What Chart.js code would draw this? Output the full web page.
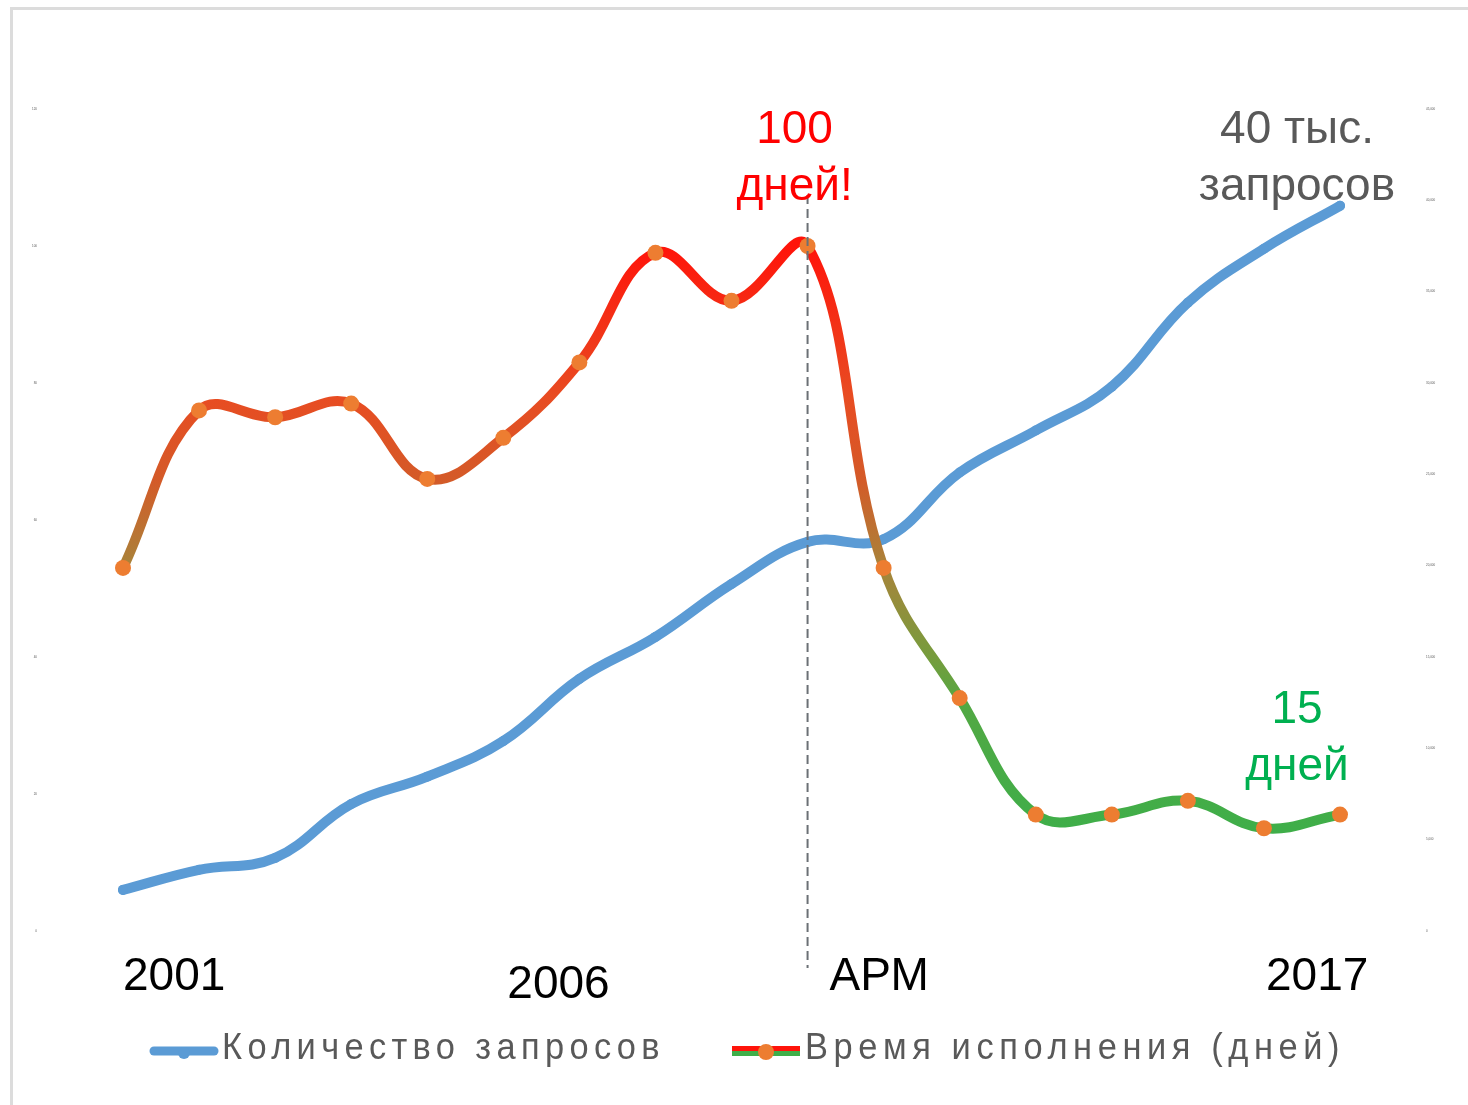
<!DOCTYPE html>
<html>
<head>
<meta charset="utf-8">
<script src="https://cdn.jsdelivr.net/npm/chart.js@4.4.1/dist/chart.umd.min.js"></script>
<style>
  html, body { margin: 0; padding: 0; background: #ffffff; overflow: hidden; }
  #frame { position: absolute; left: 10px; top: 7px; width: 2000px; height: 2000px;
           border-left: 3px solid #dcdcdc; border-top: 3px solid #dcdcdc; z-index: 0; }
  #wrap { position: absolute; left: 0; top: 0; width: 1468px; height: 1105px; z-index: 1; }
</style>
</head>
<body>
<div id="frame"></div>
<div id="wrap"><canvas id="c" width="1468" height="1105"></canvas></div>
<script>
// ---- data ----
const years = ['2001','2002','2003','2004','2005','2006','2007','2008','2009','2010','2011','2012','2013','2014','2015','2016','2017'];
const requests = [2250, 3350, 4000, 6950, 8450, 10400, 13800, 16100, 19000, 21300, 21450, 25100, 27400, 29800, 34400, 37350, 39700];
const days = [53, 76, 75, 77, 66, 72, 83, 99, 92, 100, 53, 34, 17, 17, 19, 15, 17];
const seriesNames = ['Количество запросов', 'Время исполнения (дней)'];
const leftTicks = [0, 20, 40, 60, 80, 100, 120];
const rightTicks = [0, 5000, 10000, 15000, 20000, 25000, 30000, 35000, 40000, 45000];
const yearLabels = [{i: 0, text: '2001'}, {i: 5, text: '2006'}, {i: 9, text: 'АРМ'}, {i: 16, text: '2017'}];
const aprIndex = 9;

const BLUE = '#5b9bd5';
const ORANGE = '#ed7d31';
const GRAY = '#595959';
const SANS = '"Liberation Sans", Arial, sans-serif';

function dayGradient(chart) {
  const {ctx, chartArea, scales} = chart;
  if (!chartArea) return '#e64e22';
  const y = scales.yL;
  const top = y.getPixelForValue(100), bot = y.getPixelForValue(15);
  const g = ctx.createLinearGradient(0, top, 0, bot);
  const s = v => Math.min(1, Math.max(0, (100 - v) / 85));
  g.addColorStop(s(100), '#ff140a');
  g.addColorStop(s(78), '#e84c22');
  g.addColorStop(s(66), '#d45a28');
  g.addColorStop(s(53), '#a8843a');
  g.addColorStop(s(40), '#769c3d');
  g.addColorStop(s(33), '#52a843');
  g.addColorStop(s(15), '#3fae49');
  return g;
}

const annotations = {
  id: 'annotations',
  afterDatasetsDraw(chart) {
    const {ctx, scales} = chart;
    const x = scales.x;
    ctx.save();
    const xa = x.getPixelForValue(aprIndex);
    ctx.strokeStyle = '#6b7075';
    ctx.lineWidth = 2;
    ctx.setLineDash([9, 5]);
    ctx.beginPath();
    ctx.moveTo(xa, 195);
    ctx.lineTo(xa, 968);
    ctx.stroke();
    ctx.setLineDash([]);

    ctx.textAlign = 'center';
    ctx.textBaseline = 'alphabetic';
    ctx.font = '46px ' + SANS;
    ctx.fillStyle = '#ff0000';
    ctx.fillText('100', xa - 13, 143);
    ctx.fillText('дней!', xa - 13, 200);
    const xe = x.getPixelForValue(16);
    ctx.fillStyle = GRAY;
    ctx.fillText('40 тыс.', xe - 43, 143);
    ctx.fillText('запросов', xe - 43, 200);
    ctx.fillStyle = '#00b050';
    ctx.fillText('15', xe - 43, 723);
    ctx.fillText('дней', xe - 43, 780);

    ctx.fillStyle = '#000000';
    ctx.textAlign = 'left';
    const offs = {0: [0, 990], 5: [4, 998], 9: [22, 990], 16: [-74, 990]};
    yearLabels.forEach(l => {
      const o = offs[l.i];
      ctx.fillText(l.text, x.getPixelForValue(l.i) + o[0], o[1]);
    });

    // legend
    const items = [
      {x0: 150, x1: 218, tx: 222, tw: 443, name: seriesNames[0], kind: 0},
      {x0: 732, x1: 800, tx: 805, tw: 540, name: seriesNames[1], kind: 1}
    ];
    const ly = 1051;
    items.forEach(it => {
      if (it.kind === 0) {
        ctx.strokeStyle = BLUE; ctx.lineWidth = 9; ctx.lineCap = 'round';
        ctx.beginPath(); ctx.moveTo(it.x0 + 4, ly); ctx.lineTo(it.x1 - 4, ly); ctx.stroke();
        ctx.fillStyle = BLUE;
        ctx.beginPath(); ctx.arc((it.x0 + it.x1) / 2, ly + 2, 6, 0, Math.PI * 2); ctx.fill();
      } else {
        ctx.fillStyle = '#ff140a';
        ctx.fillRect(it.x0, ly - 5, it.x1 - it.x0, 5);
        ctx.fillStyle = '#3fae49';
        ctx.fillRect(it.x0, ly, it.x1 - it.x0, 5);
        ctx.fillStyle = ORANGE;
        ctx.beginPath(); ctx.arc((it.x0 + it.x1) / 2, ly + 1, 8, 0, Math.PI * 2); ctx.fill();
      }
      const sx = 0.93;
      ctx.save();
      ctx.font = '37px ' + SANS;
      ctx.fillStyle = GRAY;
      ctx.textAlign = 'left';
      ctx.scale(sx, 1);
      ctx.letterSpacing = '0px';
      const w = ctx.measureText(it.name).width;
      const sp = (it.tw / sx - w) / it.name.length;
      ctx.letterSpacing = sp.toFixed(2) + 'px';
      ctx.fillText(it.name, it.tx / sx, 1059);
      ctx.restore();
    });
    ctx.restore();
  }
};

new Chart(document.getElementById('c'), {
  type: 'line',
  data: {
    labels: years,
    datasets: [
      {
        label: seriesNames[0],
        data: requests,
        yAxisID: 'yR',
        borderColor: BLUE,
        backgroundColor: BLUE,
        borderWidth: 10,
        pointRadius: 5,
        pointBorderWidth: 0,
        pointBackgroundColor: BLUE,
        tension: 0.4,
        order: 2,
        borderCapStyle: 'round',
        borderJoinStyle: 'round'
      },
      {
        label: seriesNames[1],
        data: days,
        yAxisID: 'yL',
        borderColor: ctx => dayGradient(ctx.chart),
        borderWidth: 10,
        pointRadius: 8,
        pointBorderWidth: 0,
        pointBackgroundColor: ORANGE,
        tension: 0.4,
        order: 1,
        borderCapStyle: 'round',
        borderJoinStyle: 'round'
      }
    ]
  },
  options: {
    responsive: false,
    animation: false,
    devicePixelRatio: 1,
    layout: { padding: { left: 0, right: 0, top: 109, bottom: 174 } },
    plugins: { legend: { display: false }, tooltip: { enabled: false } },
    scales: {
      x: { type: 'category', display: false, offset: false },
      yL: {
        position: 'left', min: 0, max: 120,
        afterBuildTicks: s => { s.ticks = leftTicks.map(v => ({value: v})); },
        afterFit: s => { s.width = 123; },
        grid: { display: false }, border: { display: false },
        ticks: { padding: 78, font: { size: 3, family: SANS }, color: GRAY }
      },
      yR: {
        position: 'right', min: 0, max: 45000,
        afterBuildTicks: s => { s.ticks = rightTicks.map(v => ({value: v})); },
        afterFit: s => { s.width = 128; },
        grid: { display: false }, border: { display: false },
        ticks: { padding: 78, font: { size: 3, family: SANS }, color: GRAY }
      }
    }
  },
  plugins: [annotations]
});
</script>
</body>
</html>
